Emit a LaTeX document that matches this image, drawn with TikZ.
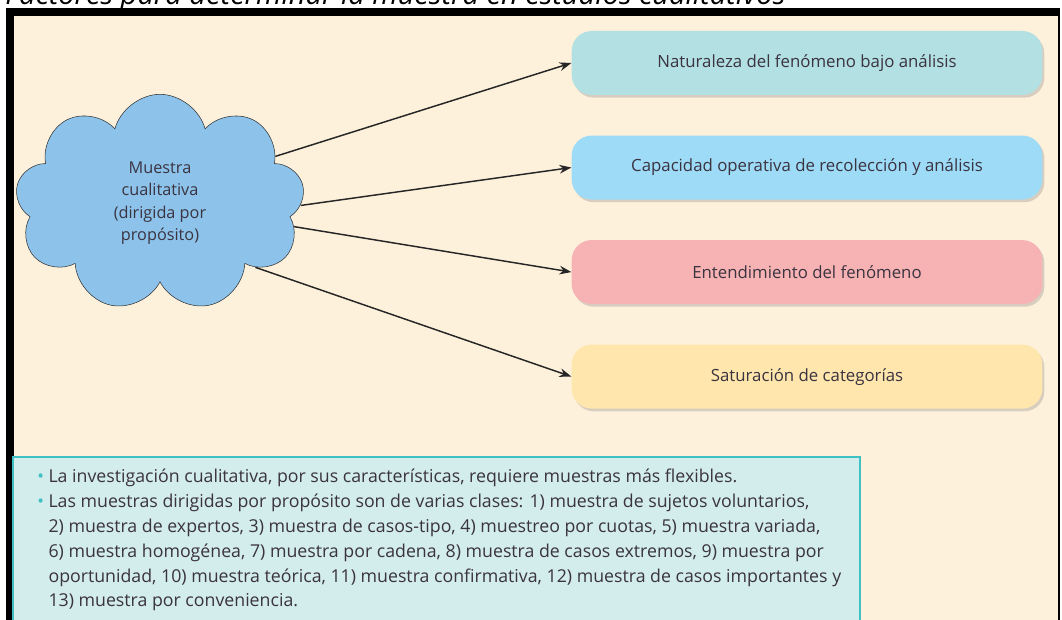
\documentclass[tikz,border=0pt]{standalone}
\usepackage{fontspec}
\setmainfont{Open Sans}
\usetikzlibrary{positioning,shapes.symbols,arrows.meta,shadows}

\definecolor{fondo}{HTML}{FEF1DC}
\definecolor{nube}{HTML}{8DC3EA}
\definecolor{turquesa}{HTML}{B3E0E2}
\definecolor{celeste}{HTML}{9EDBF7}
\definecolor{rosa}{HTML}{F7B3B4}
\definecolor{amarillo}{HTML}{FEE6AC}
\definecolor{notafondo}{HTML}{D3ECEC}
\definecolor{notaborde}{HTML}{3FC1C3}
\definecolor{texto}{HTML}{3A3340}

\newcommand{\vineta}{{\color{notaborde}\textbullet}\ }
\newcommand{\sangria}{\hphantom{\textbullet\ }}

\tikzset{
  factor/.style={
      rounded corners=15pt,
      minimum width=353pt,
      minimum height=48pt,
      text=texto,
      font=\fontsize{12.6}{14}\selectfont,
      drop shadow={shadow xshift=1.5pt, shadow yshift=-2pt, opacity=0.3}
  },
  flecha/.style={-{Stealth[length=9pt,width=6.5pt]}, line width=1.1pt, black!85}
}

\begin{document}
\begin{tikzpicture}[x=0.75pt, y=-0.75pt]
  \useasboundingbox (0,0) rectangle (1062,620);
  \clip (0,0) rectangle (1062,620);
  % titulo cortado arriba
  \node[anchor=base west, inner sep=0pt, font=\fontsize{21.8}{24}\selectfont\itshape] (titulo) at (5,5)
      {Factores para determinar la muestra en estudios cualitativos};
  % marco
  \fill[black] (6,8) rectangle (1060,620);
  \fill[fondo] (14,16) rectangle (1058,620);

  \node[cloud, cloud puffs=9, draw=black!80, fill=nube,
      minimum width=217pt, minimum height=163pt,
      align=center, text=texto, font=\fontsize{12.2}{16.8}\selectfont] (muestra) at (160,203)
      {Muestra\\cualitativa\\(dirigida por\\propósito)};

  \node[factor, fill=turquesa] (naturaleza) at (807,63) {Naturaleza del fenómeno bajo análisis};
  \node[factor, fill=celeste, below=30pt of naturaleza] (capacidad) {Capacidad operativa de recolección y análisis};
  \node[factor, fill=rosa, below=30pt of capacidad] (entendimiento) {Entendimiento del fenómeno};
  \node[factor, fill=amarillo, below=30pt of entendimiento] (saturacion) {Saturación de categorías};

  \draw[flecha] (muestra.22) -- (naturaleza.west);
  \draw[flecha] (muestra.-1) -- (capacidad.west);
  \draw[flecha] (muestra.-10) -- (entendimiento.west);
  \draw[flecha] (muestra.-34) -- (saturacion.west);

  % recuadro de notas
  \draw[notaborde, fill=notafondo, line width=1pt] (13,457) rectangle (860,630);
  \node[anchor=north west, inner sep=0pt, align=left, text=texto,
      font=\fontsize{13.3}{18.6}\selectfont] (notas) at (37,469)
      {\vineta La investigación cualitativa, por sus características, requiere muestras más flexibles.\\
       \vineta Las muestras dirigidas por propósito son de varias clases: 1) muestra de sujetos voluntarios,\\
       \sangria 2) muestra de expertos, 3) muestra de casos-tipo, 4) muestreo por cuotas, 5) muestra variada,\\
       \sangria 6) muestra homogénea, 7) muestra por cadena, 8) muestra de casos extremos, 9) muestra por\\
       \sangria oportunidad, 10) muestra teórica, 11) muestra confirmativa, 12) muestra de casos importantes y\\
       \sangria 13) muestra por conveniencia.};
\end{tikzpicture}
\end{document}
